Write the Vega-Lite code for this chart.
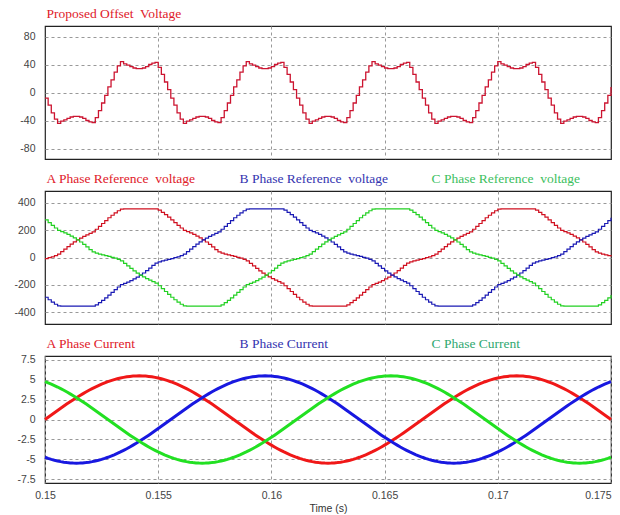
{
"$schema":"https://vega.github.io/schema/vega-lite/v6.json",
"padding":{"left":10,"top":6,"right":10,"bottom":0},
"spacing":11,
"data":{"values":[
{"t":0.15,"o":-8,"a":-8,"b":-290,"c":274,"ia":0,"ib":-4.76,"ic":4.76},
{"t":0.150139,"o":-18,"a":-1,"b":-308,"c":255,"ia":0.29,"ib":-4.9,"ic":4.61},
{"t":0.150278,"o":-29,"a":5,"b":-326,"c":234,"ia":0.57,"ib":-5.02,"ic":4.45},
{"t":0.150417,"o":-38,"a":13,"b":-341,"c":215,"ia":0.86,"ib":-5.13,"ic":4.27},
{"t":0.150556,"o":-44,"a":24,"b":-353,"c":198,"ia":1.14,"ib":-5.23,"ic":4.09},
{"t":0.150694,"o":-41,"a":43,"b":-354,"c":189,"ia":1.42,"ib":-5.31,"ic":3.89},
{"t":0.150833,"o":-39,"a":61,"b":-354,"c":179,"ia":1.7,"ib":-5.38,"ic":3.68},
{"t":0.150972,"o":-37,"a":80,"b":-354,"c":168,"ia":1.97,"ib":-5.43,"ic":3.46},
{"t":0.151111,"o":-35,"a":97,"b":-354,"c":156,"ia":2.24,"ib":-5.47,"ic":3.23},
{"t":0.15125,"o":-34,"a":114,"b":-354,"c":143,"ia":2.5,"ib":-5.49,"ic":3},
{"t":0.151389,"o":-34,"a":129,"b":-354,"c":129,"ia":2.75,"ib":-5.5,"ic":2.75},
{"t":0.151528,"o":-35,"a":142,"b":-354,"c":113,"ia":3,"ib":-5.49,"ic":2.5},
{"t":0.151667,"o":-37,"a":154,"b":-354,"c":95,"ia":3.23,"ib":-5.47,"ic":2.24},
{"t":0.151806,"o":-40,"a":165,"b":-354,"c":77,"ia":3.46,"ib":-5.43,"ic":1.97},
{"t":0.151944,"o":-42,"a":176,"b":-354,"c":58,"ia":3.68,"ib":-5.38,"ic":1.7},
{"t":0.152083,"o":-43,"a":187,"b":-354,"c":41,"ia":3.89,"ib":-5.31,"ic":1.42},
{"t":0.152222,"o":-36,"a":206,"b":-345,"c":32,"ia":4.09,"ib":-5.23,"ic":1.14},
{"t":0.152361,"o":-26,"a":227,"b":-329,"c":25,"ia":4.27,"ib":-5.13,"ic":0.86},
{"t":0.1525,"o":-15,"a":248,"b":-312,"c":19,"ia":4.45,"ib":-5.02,"ic":0.57},
{"t":0.152639,"o":-4,"a":269,"b":-294,"c":13,"ia":4.61,"ib":-4.9,"ic":0.29},
{"t":0.152778,"o":8,"a":290,"b":-274,"c":8,"ia":4.76,"ib":-4.76,"ic":0},
{"t":0.152917,"o":18,"a":308,"b":-255,"c":1,"ia":4.9,"ib":-4.61,"ic":-0.29},
{"t":0.153056,"o":29,"a":326,"b":-234,"c":-5,"ia":5.02,"ib":-4.45,"ic":-0.57},
{"t":0.153194,"o":38,"a":341,"b":-215,"c":-13,"ia":5.13,"ib":-4.27,"ic":-0.86},
{"t":0.153333,"o":44,"a":353,"b":-198,"c":-24,"ia":5.23,"ib":-4.09,"ic":-1.14},
{"t":0.153472,"o":41,"a":354,"b":-189,"c":-43,"ia":5.31,"ib":-3.89,"ic":-1.42},
{"t":0.153611,"o":39,"a":354,"b":-179,"c":-61,"ia":5.38,"ib":-3.68,"ic":-1.7},
{"t":0.15375,"o":37,"a":354,"b":-168,"c":-80,"ia":5.43,"ib":-3.46,"ic":-1.97},
{"t":0.153889,"o":35,"a":354,"b":-156,"c":-97,"ia":5.47,"ib":-3.23,"ic":-2.24},
{"t":0.154028,"o":34,"a":354,"b":-143,"c":-114,"ia":5.49,"ib":-3,"ic":-2.5},
{"t":0.154167,"o":34,"a":354,"b":-129,"c":-129,"ia":5.5,"ib":-2.75,"ic":-2.75},
{"t":0.154306,"o":35,"a":354,"b":-113,"c":-142,"ia":5.49,"ib":-2.5,"ic":-3},
{"t":0.154444,"o":37,"a":354,"b":-95,"c":-154,"ia":5.47,"ib":-2.24,"ic":-3.23},
{"t":0.154583,"o":40,"a":354,"b":-77,"c":-165,"ia":5.43,"ib":-1.97,"ic":-3.46},
{"t":0.154722,"o":42,"a":354,"b":-58,"c":-176,"ia":5.38,"ib":-1.7,"ic":-3.68},
{"t":0.154861,"o":43,"a":354,"b":-41,"c":-187,"ia":5.31,"ib":-1.42,"ic":-3.89},
{"t":0.155,"o":36,"a":345,"b":-32,"c":-206,"ia":5.23,"ib":-1.14,"ic":-4.09},
{"t":0.155139,"o":26,"a":329,"b":-25,"c":-227,"ia":5.13,"ib":-0.86,"ic":-4.27},
{"t":0.155278,"o":15,"a":312,"b":-19,"c":-248,"ia":5.02,"ib":-0.57,"ic":-4.45},
{"t":0.155417,"o":4,"a":294,"b":-13,"c":-269,"ia":4.9,"ib":-0.29,"ic":-4.61},
{"t":0.155556,"o":-8,"a":274,"b":-8,"c":-290,"ia":4.76,"ib":0,"ic":-4.76},
{"t":0.155694,"o":-18,"a":255,"b":-1,"c":-308,"ia":4.61,"ib":0.29,"ic":-4.9},
{"t":0.155833,"o":-29,"a":234,"b":5,"c":-326,"ia":4.45,"ib":0.57,"ic":-5.02},
{"t":0.155972,"o":-38,"a":215,"b":13,"c":-341,"ia":4.27,"ib":0.86,"ic":-5.13},
{"t":0.156111,"o":-44,"a":198,"b":24,"c":-353,"ia":4.09,"ib":1.14,"ic":-5.23},
{"t":0.15625,"o":-41,"a":189,"b":43,"c":-354,"ia":3.89,"ib":1.42,"ic":-5.31},
{"t":0.156389,"o":-39,"a":179,"b":61,"c":-354,"ia":3.68,"ib":1.7,"ic":-5.38},
{"t":0.156528,"o":-37,"a":168,"b":80,"c":-354,"ia":3.46,"ib":1.97,"ic":-5.43},
{"t":0.156667,"o":-35,"a":156,"b":97,"c":-354,"ia":3.23,"ib":2.24,"ic":-5.47},
{"t":0.156806,"o":-34,"a":143,"b":114,"c":-354,"ia":3,"ib":2.5,"ic":-5.49},
{"t":0.156944,"o":-34,"a":129,"b":129,"c":-354,"ia":2.75,"ib":2.75,"ic":-5.5},
{"t":0.157083,"o":-35,"a":113,"b":142,"c":-354,"ia":2.5,"ib":3,"ic":-5.49},
{"t":0.157222,"o":-37,"a":95,"b":154,"c":-354,"ia":2.24,"ib":3.23,"ic":-5.47},
{"t":0.157361,"o":-40,"a":77,"b":165,"c":-354,"ia":1.97,"ib":3.46,"ic":-5.43},
{"t":0.1575,"o":-42,"a":58,"b":176,"c":-354,"ia":1.7,"ib":3.68,"ic":-5.38},
{"t":0.157639,"o":-43,"a":41,"b":187,"c":-354,"ia":1.42,"ib":3.89,"ic":-5.31},
{"t":0.157778,"o":-36,"a":32,"b":206,"c":-345,"ia":1.14,"ib":4.09,"ic":-5.23},
{"t":0.157917,"o":-26,"a":25,"b":227,"c":-329,"ia":0.86,"ib":4.27,"ic":-5.13},
{"t":0.158056,"o":-15,"a":19,"b":248,"c":-312,"ia":0.57,"ib":4.45,"ic":-5.02},
{"t":0.158194,"o":-4,"a":13,"b":269,"c":-294,"ia":0.29,"ib":4.61,"ic":-4.9},
{"t":0.158333,"o":8,"a":8,"b":290,"c":-274,"ia":0,"ib":4.76,"ic":-4.76},
{"t":0.158472,"o":18,"a":1,"b":308,"c":-255,"ia":-0.29,"ib":4.9,"ic":-4.61},
{"t":0.158611,"o":29,"a":-5,"b":326,"c":-234,"ia":-0.57,"ib":5.02,"ic":-4.45},
{"t":0.15875,"o":38,"a":-13,"b":341,"c":-215,"ia":-0.86,"ib":5.13,"ic":-4.27},
{"t":0.158889,"o":44,"a":-24,"b":353,"c":-198,"ia":-1.14,"ib":5.23,"ic":-4.09},
{"t":0.159028,"o":41,"a":-43,"b":354,"c":-189,"ia":-1.42,"ib":5.31,"ic":-3.89},
{"t":0.159167,"o":39,"a":-61,"b":354,"c":-179,"ia":-1.7,"ib":5.38,"ic":-3.68},
{"t":0.159306,"o":37,"a":-80,"b":354,"c":-168,"ia":-1.97,"ib":5.43,"ic":-3.46},
{"t":0.159444,"o":35,"a":-97,"b":354,"c":-156,"ia":-2.24,"ib":5.47,"ic":-3.23},
{"t":0.159583,"o":34,"a":-114,"b":354,"c":-143,"ia":-2.5,"ib":5.49,"ic":-3},
{"t":0.159722,"o":34,"a":-129,"b":354,"c":-129,"ia":-2.75,"ib":5.5,"ic":-2.75},
{"t":0.159861,"o":35,"a":-142,"b":354,"c":-113,"ia":-3,"ib":5.49,"ic":-2.5},
{"t":0.16,"o":37,"a":-154,"b":354,"c":-95,"ia":-3.23,"ib":5.47,"ic":-2.24},
{"t":0.160139,"o":40,"a":-165,"b":354,"c":-77,"ia":-3.46,"ib":5.43,"ic":-1.97},
{"t":0.160278,"o":42,"a":-176,"b":354,"c":-58,"ia":-3.68,"ib":5.38,"ic":-1.7},
{"t":0.160417,"o":43,"a":-187,"b":354,"c":-41,"ia":-3.89,"ib":5.31,"ic":-1.42},
{"t":0.160556,"o":36,"a":-206,"b":345,"c":-32,"ia":-4.09,"ib":5.23,"ic":-1.14},
{"t":0.160694,"o":26,"a":-227,"b":329,"c":-25,"ia":-4.27,"ib":5.13,"ic":-0.86},
{"t":0.160833,"o":15,"a":-248,"b":312,"c":-19,"ia":-4.45,"ib":5.02,"ic":-0.57},
{"t":0.160972,"o":4,"a":-269,"b":294,"c":-13,"ia":-4.61,"ib":4.9,"ic":-0.29},
{"t":0.161111,"o":-8,"a":-290,"b":274,"c":-8,"ia":-4.76,"ib":4.76,"ic":0},
{"t":0.16125,"o":-18,"a":-308,"b":255,"c":-1,"ia":-4.9,"ib":4.61,"ic":0.29},
{"t":0.161389,"o":-29,"a":-326,"b":234,"c":5,"ia":-5.02,"ib":4.45,"ic":0.57},
{"t":0.161528,"o":-38,"a":-341,"b":215,"c":13,"ia":-5.13,"ib":4.27,"ic":0.86},
{"t":0.161667,"o":-44,"a":-353,"b":198,"c":24,"ia":-5.23,"ib":4.09,"ic":1.14},
{"t":0.161806,"o":-41,"a":-354,"b":189,"c":43,"ia":-5.31,"ib":3.89,"ic":1.42},
{"t":0.161944,"o":-39,"a":-354,"b":179,"c":61,"ia":-5.38,"ib":3.68,"ic":1.7},
{"t":0.162083,"o":-37,"a":-354,"b":168,"c":80,"ia":-5.43,"ib":3.46,"ic":1.97},
{"t":0.162222,"o":-35,"a":-354,"b":156,"c":97,"ia":-5.47,"ib":3.23,"ic":2.24},
{"t":0.162361,"o":-34,"a":-354,"b":143,"c":114,"ia":-5.49,"ib":3,"ic":2.5},
{"t":0.1625,"o":-34,"a":-354,"b":129,"c":129,"ia":-5.5,"ib":2.75,"ic":2.75},
{"t":0.162639,"o":-35,"a":-354,"b":113,"c":142,"ia":-5.49,"ib":2.5,"ic":3},
{"t":0.162778,"o":-37,"a":-354,"b":95,"c":154,"ia":-5.47,"ib":2.24,"ic":3.23},
{"t":0.162917,"o":-40,"a":-354,"b":77,"c":165,"ia":-5.43,"ib":1.97,"ic":3.46},
{"t":0.163056,"o":-42,"a":-354,"b":58,"c":176,"ia":-5.38,"ib":1.7,"ic":3.68},
{"t":0.163194,"o":-43,"a":-354,"b":41,"c":187,"ia":-5.31,"ib":1.42,"ic":3.89},
{"t":0.163333,"o":-36,"a":-345,"b":32,"c":206,"ia":-5.23,"ib":1.14,"ic":4.09},
{"t":0.163472,"o":-26,"a":-329,"b":25,"c":227,"ia":-5.13,"ib":0.86,"ic":4.27},
{"t":0.163611,"o":-15,"a":-312,"b":19,"c":248,"ia":-5.02,"ib":0.57,"ic":4.45},
{"t":0.16375,"o":-4,"a":-294,"b":13,"c":269,"ia":-4.9,"ib":0.29,"ic":4.61},
{"t":0.163889,"o":8,"a":-274,"b":8,"c":290,"ia":-4.76,"ib":0,"ic":4.76},
{"t":0.164028,"o":18,"a":-255,"b":1,"c":308,"ia":-4.61,"ib":-0.29,"ic":4.9},
{"t":0.164167,"o":29,"a":-234,"b":-5,"c":326,"ia":-4.45,"ib":-0.57,"ic":5.02},
{"t":0.164306,"o":38,"a":-215,"b":-13,"c":341,"ia":-4.27,"ib":-0.86,"ic":5.13},
{"t":0.164444,"o":44,"a":-198,"b":-24,"c":353,"ia":-4.09,"ib":-1.14,"ic":5.23},
{"t":0.164583,"o":41,"a":-189,"b":-43,"c":354,"ia":-3.89,"ib":-1.42,"ic":5.31},
{"t":0.164722,"o":39,"a":-179,"b":-61,"c":354,"ia":-3.68,"ib":-1.7,"ic":5.38},
{"t":0.164861,"o":37,"a":-168,"b":-80,"c":354,"ia":-3.46,"ib":-1.97,"ic":5.43},
{"t":0.165,"o":35,"a":-156,"b":-97,"c":354,"ia":-3.23,"ib":-2.24,"ic":5.47},
{"t":0.165139,"o":34,"a":-143,"b":-114,"c":354,"ia":-3,"ib":-2.5,"ic":5.49},
{"t":0.165278,"o":34,"a":-129,"b":-129,"c":354,"ia":-2.75,"ib":-2.75,"ic":5.5},
{"t":0.165417,"o":35,"a":-113,"b":-142,"c":354,"ia":-2.5,"ib":-3,"ic":5.49},
{"t":0.165556,"o":37,"a":-95,"b":-154,"c":354,"ia":-2.24,"ib":-3.23,"ic":5.47},
{"t":0.165694,"o":40,"a":-77,"b":-165,"c":354,"ia":-1.97,"ib":-3.46,"ic":5.43},
{"t":0.165833,"o":42,"a":-58,"b":-176,"c":354,"ia":-1.7,"ib":-3.68,"ic":5.38},
{"t":0.165972,"o":43,"a":-41,"b":-187,"c":354,"ia":-1.42,"ib":-3.89,"ic":5.31},
{"t":0.166111,"o":36,"a":-32,"b":-206,"c":345,"ia":-1.14,"ib":-4.09,"ic":5.23},
{"t":0.16625,"o":26,"a":-25,"b":-227,"c":329,"ia":-0.86,"ib":-4.27,"ic":5.13},
{"t":0.166389,"o":15,"a":-19,"b":-248,"c":312,"ia":-0.57,"ib":-4.45,"ic":5.02},
{"t":0.166528,"o":4,"a":-13,"b":-269,"c":294,"ia":-0.29,"ib":-4.61,"ic":4.9},
{"t":0.166667,"o":-8,"a":-8,"b":-290,"c":274,"ia":0,"ib":-4.76,"ic":4.76},
{"t":0.166806,"o":-18,"a":-1,"b":-308,"c":255,"ia":0.29,"ib":-4.9,"ic":4.61},
{"t":0.166944,"o":-29,"a":5,"b":-326,"c":234,"ia":0.57,"ib":-5.02,"ic":4.45},
{"t":0.167083,"o":-38,"a":13,"b":-341,"c":215,"ia":0.86,"ib":-5.13,"ic":4.27},
{"t":0.167222,"o":-44,"a":24,"b":-353,"c":198,"ia":1.14,"ib":-5.23,"ic":4.09},
{"t":0.167361,"o":-41,"a":43,"b":-354,"c":189,"ia":1.42,"ib":-5.31,"ic":3.89},
{"t":0.1675,"o":-39,"a":61,"b":-354,"c":179,"ia":1.7,"ib":-5.38,"ic":3.68},
{"t":0.167639,"o":-37,"a":80,"b":-354,"c":168,"ia":1.97,"ib":-5.43,"ic":3.46},
{"t":0.167778,"o":-35,"a":97,"b":-354,"c":156,"ia":2.24,"ib":-5.47,"ic":3.23},
{"t":0.167917,"o":-34,"a":114,"b":-354,"c":143,"ia":2.5,"ib":-5.49,"ic":3},
{"t":0.168056,"o":-34,"a":129,"b":-354,"c":129,"ia":2.75,"ib":-5.5,"ic":2.75},
{"t":0.168194,"o":-35,"a":142,"b":-354,"c":113,"ia":3,"ib":-5.49,"ic":2.5},
{"t":0.168333,"o":-37,"a":154,"b":-354,"c":95,"ia":3.23,"ib":-5.47,"ic":2.24},
{"t":0.168472,"o":-40,"a":165,"b":-354,"c":77,"ia":3.46,"ib":-5.43,"ic":1.97},
{"t":0.168611,"o":-42,"a":176,"b":-354,"c":58,"ia":3.68,"ib":-5.38,"ic":1.7},
{"t":0.16875,"o":-43,"a":187,"b":-354,"c":41,"ia":3.89,"ib":-5.31,"ic":1.42},
{"t":0.168889,"o":-36,"a":206,"b":-345,"c":32,"ia":4.09,"ib":-5.23,"ic":1.14},
{"t":0.169028,"o":-26,"a":227,"b":-329,"c":25,"ia":4.27,"ib":-5.13,"ic":0.86},
{"t":0.169167,"o":-15,"a":248,"b":-312,"c":19,"ia":4.45,"ib":-5.02,"ic":0.57},
{"t":0.169306,"o":-4,"a":269,"b":-294,"c":13,"ia":4.61,"ib":-4.9,"ic":0.29},
{"t":0.169444,"o":8,"a":290,"b":-274,"c":8,"ia":4.76,"ib":-4.76,"ic":0},
{"t":0.169583,"o":18,"a":308,"b":-255,"c":1,"ia":4.9,"ib":-4.61,"ic":-0.29},
{"t":0.169722,"o":29,"a":326,"b":-234,"c":-5,"ia":5.02,"ib":-4.45,"ic":-0.57},
{"t":0.169861,"o":38,"a":341,"b":-215,"c":-13,"ia":5.13,"ib":-4.27,"ic":-0.86},
{"t":0.17,"o":44,"a":353,"b":-198,"c":-24,"ia":5.23,"ib":-4.09,"ic":-1.14},
{"t":0.170139,"o":41,"a":354,"b":-189,"c":-43,"ia":5.31,"ib":-3.89,"ic":-1.42},
{"t":0.170278,"o":39,"a":354,"b":-179,"c":-61,"ia":5.38,"ib":-3.68,"ic":-1.7},
{"t":0.170417,"o":37,"a":354,"b":-168,"c":-80,"ia":5.43,"ib":-3.46,"ic":-1.97},
{"t":0.170556,"o":35,"a":354,"b":-156,"c":-97,"ia":5.47,"ib":-3.23,"ic":-2.24},
{"t":0.170694,"o":34,"a":354,"b":-143,"c":-114,"ia":5.49,"ib":-3,"ic":-2.5},
{"t":0.170833,"o":34,"a":354,"b":-129,"c":-129,"ia":5.5,"ib":-2.75,"ic":-2.75},
{"t":0.170972,"o":35,"a":354,"b":-113,"c":-142,"ia":5.49,"ib":-2.5,"ic":-3},
{"t":0.171111,"o":37,"a":354,"b":-95,"c":-154,"ia":5.47,"ib":-2.24,"ic":-3.23},
{"t":0.17125,"o":40,"a":354,"b":-77,"c":-165,"ia":5.43,"ib":-1.97,"ic":-3.46},
{"t":0.171389,"o":42,"a":354,"b":-58,"c":-176,"ia":5.38,"ib":-1.7,"ic":-3.68},
{"t":0.171528,"o":43,"a":354,"b":-41,"c":-187,"ia":5.31,"ib":-1.42,"ic":-3.89},
{"t":0.171667,"o":36,"a":345,"b":-32,"c":-206,"ia":5.23,"ib":-1.14,"ic":-4.09},
{"t":0.171806,"o":26,"a":329,"b":-25,"c":-227,"ia":5.13,"ib":-0.86,"ic":-4.27},
{"t":0.171944,"o":15,"a":312,"b":-19,"c":-248,"ia":5.02,"ib":-0.57,"ic":-4.45},
{"t":0.172083,"o":4,"a":294,"b":-13,"c":-269,"ia":4.9,"ib":-0.29,"ic":-4.61},
{"t":0.172222,"o":-8,"a":274,"b":-8,"c":-290,"ia":4.76,"ib":0,"ic":-4.76},
{"t":0.172361,"o":-18,"a":255,"b":-1,"c":-308,"ia":4.61,"ib":0.29,"ic":-4.9},
{"t":0.1725,"o":-29,"a":234,"b":5,"c":-326,"ia":4.45,"ib":0.57,"ic":-5.02},
{"t":0.172639,"o":-38,"a":215,"b":13,"c":-341,"ia":4.27,"ib":0.86,"ic":-5.13},
{"t":0.172778,"o":-44,"a":198,"b":24,"c":-353,"ia":4.09,"ib":1.14,"ic":-5.23},
{"t":0.172917,"o":-41,"a":189,"b":43,"c":-354,"ia":3.89,"ib":1.42,"ic":-5.31},
{"t":0.173056,"o":-39,"a":179,"b":61,"c":-354,"ia":3.68,"ib":1.7,"ic":-5.38},
{"t":0.173194,"o":-37,"a":168,"b":80,"c":-354,"ia":3.46,"ib":1.97,"ic":-5.43},
{"t":0.173333,"o":-35,"a":156,"b":97,"c":-354,"ia":3.23,"ib":2.24,"ic":-5.47},
{"t":0.173472,"o":-34,"a":143,"b":114,"c":-354,"ia":3,"ib":2.5,"ic":-5.49},
{"t":0.173611,"o":-34,"a":129,"b":129,"c":-354,"ia":2.75,"ib":2.75,"ic":-5.5},
{"t":0.17375,"o":-35,"a":113,"b":142,"c":-354,"ia":2.5,"ib":3,"ic":-5.49},
{"t":0.173889,"o":-37,"a":95,"b":154,"c":-354,"ia":2.24,"ib":3.23,"ic":-5.47},
{"t":0.174028,"o":-40,"a":77,"b":165,"c":-354,"ia":1.97,"ib":3.46,"ic":-5.43},
{"t":0.174167,"o":-42,"a":58,"b":176,"c":-354,"ia":1.7,"ib":3.68,"ic":-5.38},
{"t":0.174306,"o":-43,"a":41,"b":187,"c":-354,"ia":1.42,"ib":3.89,"ic":-5.31},
{"t":0.174444,"o":-36,"a":32,"b":206,"c":-345,"ia":1.14,"ib":4.09,"ic":-5.23},
{"t":0.174583,"o":-26,"a":25,"b":227,"c":-329,"ia":0.86,"ib":4.27,"ic":-5.13},
{"t":0.174722,"o":-15,"a":19,"b":248,"c":-312,"ia":0.57,"ib":4.45,"ic":-5.02},
{"t":0.174861,"o":-4,"a":13,"b":269,"c":-294,"ia":0.29,"ib":4.61,"ic":-4.9},
{"t":0.175,"o":8,"a":8,"b":290,"c":-274,"ia":0,"ib":4.76,"ic":-4.76}
]},
"vconcat":[
{"width":566,"height":133,
 "mark":{"type":"line","interpolate":"step-after","strokeWidth":1.3},
 "encoding":{
  "x":{"field":"t","type":"quantitative","scale":{"domain":[0.15,0.175],"nice":false,"zero":false},
       "axis":{"values":[0.155,0.16,0.165,0.17],"labels":false,"ticks":false,"domain":false,"title":null,"minExtent":0,"maxExtent":0}},
  "y":{"field":"o","type":"quantitative","scale":{"domain":[-95,95],"nice":false},
       "axis":{"values":[-80,-40,0,40,80],"labelOverlap":false}},
  "color":{"datum":"Proposed Offset\u00a0 Voltage","scale":{"range":["#cc1430"]},
       "legend":{"labelColor":{"expr":"datum.label[0]=='B' ? '#3434b0' : datum.label[0]=='C' ? '#3cb45a' : '#e0202a'"}}}
 }},
{"width":566,"height":133,
 "encoding":{
  "x":{"field":"t","type":"quantitative","scale":{"domain":[0.15,0.175],"nice":false,"zero":false},
       "axis":{"values":[0.155,0.16,0.165,0.17],"labels":false,"ticks":false,"domain":false,"title":null,"minExtent":0,"maxExtent":0}}
 },
 "layer":[
  {"mark":{"type":"line","interpolate":"step-after","strokeWidth":1.2},
   "encoding":{"y":{"field":"a","type":"quantitative","scale":{"domain":[-485,485],"nice":false},"axis":{"values":[-400,-200,0,200,400],"labelOverlap":false}},
     "color":{"datum":"A Phase Reference\u00a0 voltage","scale":{"domain":["A Phase Reference\u00a0 voltage","B Phase Reference\u00a0 voltage","C Phase Reference\u00a0 voltage"],"range":["#d01020","#1a1ab4","#22d022"]},
       "legend":{"columnPadding":42,"labelColor":{"expr":"datum.label[0]=='B' ? '#3434b0' : datum.label[0]=='C' ? '#3cc060' : '#e0202a'"}}}}},
  {"mark":{"type":"line","interpolate":"step-after","strokeWidth":1.2},
   "encoding":{"y":{"field":"b","type":"quantitative","axis":{"values":[-400,-200,0,200,400],"labelOverlap":false}},"color":{"datum":"B Phase Reference\u00a0 voltage"}}},
  {"mark":{"type":"line","interpolate":"step-after","strokeWidth":1.2},
   "encoding":{"y":{"field":"c","type":"quantitative","axis":{"values":[-400,-200,0,200,400],"labelOverlap":false}},"color":{"datum":"C Phase Reference\u00a0 voltage"}}}
 ]},
{"width":566,"height":127,
 "encoding":{
  "x":{"field":"t","type":"quantitative","scale":{"domain":[0.15,0.175],"nice":false,"zero":false},
       "axis":{"values":[0.15,0.155,0.16,0.165,0.17,0.175],"title":"Time (s)","ticks":false,"domain":false,"labelPadding":7,"titlePadding":3,"labelOverlap":false,
               "labelAlign":{"condition":{"test":"datum.value > 0.174","value":"right"},"value":"center"}}}
 },
 "layer":[
  {"mark":{"type":"line","strokeWidth":3},
   "encoding":{"y":{"field":"ia","type":"quantitative","scale":{"domain":[-8,8],"nice":false},"axis":{"values":[-7.5,-5,-2.5,0,2.5,5,7.5],"labelOverlap":false}},
     "color":{"datum":"A Phase Current","scale":{"domain":["A Phase Current","B Phase Current","C Phase Current"],"range":["#f01818","#1818e0","#22e022"]},
       "legend":{"columnPadding":102,"labelColor":{"expr":"datum.label[0]=='B' ? '#3434b0' : datum.label[0]=='C' ? '#30a870' : '#e0202a'"}}}}},
  {"mark":{"type":"line","strokeWidth":3},
   "encoding":{"y":{"field":"ib","type":"quantitative","axis":{"values":[-7.5,-5,-2.5,0,2.5,5,7.5],"labelOverlap":false}},"color":{"datum":"B Phase Current"}}},
  {"mark":{"type":"line","strokeWidth":3},
   "encoding":{"y":{"field":"ic","type":"quantitative","axis":{"values":[-7.5,-5,-2.5,0,2.5,5,7.5],"labelOverlap":false}},"color":{"datum":"C Phase Current"}}}
 ]}
],
"resolve":{"scale":{"color":"independent"},"legend":{"color":"independent"}},
"config":{
 "view":{"stroke":"#222","strokeWidth":1.2},
 "axis":{"grid":true,"gridColor":"#999","gridDash":[3,3],"gridWidth":1,"labelOverlap":false,"labelFont":"Liberation Sans","labelFontSize":10.5,"labelColor":"#444","titleFont":"Liberation Sans","titleFontSize":10.5,"titleFontWeight":"normal","titleColor":"#333","labelExpr":"'' + datum.value"},
 "axisY":{"ticks":false,"domain":false,"labelPadding":10,"minExtent":34,"maxExtent":34,"title":null},
 "legend":{"orient":"top","direction":"horizontal","title":null,"symbolOpacity":0,"symbolSize":0,"symbolStrokeWidth":0,"labelOffset":-12,"labelFont":"Liberation Serif","labelFontSize":13.5,"labelLimit":0,"offset":5,"padding":0}
}
}
